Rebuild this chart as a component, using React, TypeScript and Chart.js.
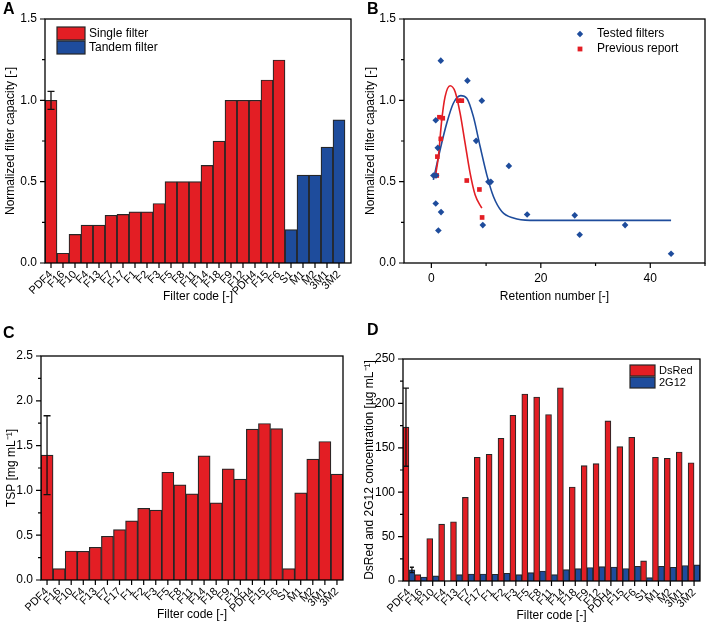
import React, { useEffect, useRef } from 'react';
import { Chart, registerables } from 'chart.js';

Chart.register(...registerables);

const FONT = '"Liberation Sans", Arial, Helvetica, sans-serif';
const RED = '#e31e24';
const BLUE = '#1e4c9c';
const EDGE = '#262626';

// ---------------- data ----------------
const filterCodes = ['PDF4', 'F16', 'F10', 'F4', 'F13', 'F7', 'F17', 'F1', 'F2', 'F3', 'F5', 'F8', 'F11', 'F14', 'F18', 'F9', 'F12', 'PDH4', 'F15', 'F6', 'S1', 'M1', 'M2', '3M1', '3M2'];
const filterKinds = ['single', 'single', 'single', 'single', 'single', 'single', 'single', 'single', 'single', 'single', 'single', 'single', 'single', 'single', 'single', 'single', 'single', 'single', 'single', 'single', 'tandem', 'tandem', 'tandem', 'tandem', 'tandem'];
const normalizedCapacity = [1.0, 0.06, 0.176, 0.233, 0.233, 0.293, 0.299, 0.315, 0.315, 0.366, 0.5, 0.5, 0.5, 0.6, 0.749, 1.0, 1.0, 1.0, 1.125, 1.248, 0.205, 0.54, 0.54, 0.712, 0.88];
const normalizedCapacityErrPDF4 = 0.055;
const legendA = ['Single filter', 'Tandem filter'];

const testedRetention = [1.72, 6.59, 9.22, 0.80, 1.17, 8.18, 14.16, 0.37, 0.86, 10.43, 10.86, 0.80, 1.77, 1.28, 9.40, 17.5, 26.2, 27.1, 35.4, 43.8];
const testedCapacity = [1.244, 1.121, 0.998, 0.878, 0.708, 0.751, 0.597, 0.538, 0.538, 0.499, 0.499, 0.366, 0.313, 0.2, 0.233, 0.298, 0.293, 0.174, 0.233, 0.057];
const previousRetention = [1.47, 2.08, 1.72, 1.10, 0.98, 4.94, 5.56, 6.47, 8.78, 9.27];
const previousCapacity = [0.896, 0.89, 0.763, 0.654, 0.538, 0.998, 0.998, 0.507, 0.452, 0.28];
const testedFitRetention = [0.37, 1.59, 2.81, 4.02, 5.37, 6.47, 7.68, 8.91, 10.13, 11.34, 12.87, 15.0, 18.05, 43.8];
const testedFitCapacity = [0.511, 0.695, 0.859, 0.982, 1.029, 1.013, 0.9, 0.716, 0.542, 0.409, 0.317, 0.276, 0.262, 0.262];
const previousFitRetention = [0.68, 1.28, 1.9, 2.51, 3.42, 4.34, 5.25, 6.16, 7.08, 7.99, 9.22];
const previousFitCapacity = [0.522, 0.654, 0.88, 1.023, 1.09, 1.053, 0.921, 0.737, 0.552, 0.419, 0.337];
const legendB = ['Tested filters', 'Previous report'];

const tsp = [1.393, 0.127, 0.324, 0.32, 0.365, 0.488, 0.563, 0.66, 0.8, 0.78, 1.203, 1.062, 0.961, 1.386, 0.861, 1.241, 1.125, 1.684, 1.747, 1.69, 0.127, 0.972, 1.349, 1.546, 1.181];
const tspErrPDF4 = 0.44;

const dsRed = [173.2, 7.2, 47.8, 64.0, 66.7, 94.1, 139.3, 142.7, 160.8, 186.7, 210.5, 207.1, 187.5, 217.6, 105.8, 129.9, 132.2, 180.3, 151.3, 161.9, 22.6, 139.3, 138.2, 145.3, 133.2];
const g2G12 = [12.5, 4.5, 5.7, null, 7.2, 7.9, 7.9, 7.5, 8.7, 7.2, 9.4, 11.3, 7.2, 12.8, 13.9, 15.1, 16.2, 15.8, 14.0, 16.6, 3.8, 16.6, 15.5, 17.4, 18.1];
const dsRedErrPDF4 = 44;
const g2G12ErrPDF4 = 3;
const legendD = ['DsRed', '2G12'];

const yTicksCapacity = [0, 0.5, 1.0, 1.5];
const yTicksTSP = [0, 0.5, 1.0, 1.5, 2.0, 2.5];
const yTicksConc = [0, 50, 100, 150, 200, 250];
const xTicksRetention = [0, 20, 40];
const xMinorRetention = [10, 30, 50];

// ---------------- plugins ----------------
const framePlugin = {
  id: 'frame',
  afterDatasetsDraw(chart: any, _a: any, opts: any) {
    const { ctx, chartArea: a } = chart;
    const xs = chart.scales.x;
    const ys = chart.scales.y;
    ctx.save();
    ctx.strokeStyle = '#000';
    ctx.lineWidth = 1.2;
    ctx.beginPath();
    const n = Math.round((ys.max - ys.min) / opts.yMinor);
    for (let k = 0; k <= n; k++) {
      const p = ys.getPixelForValue(ys.min + k * opts.yMinor);
      const len = k % 2 === 0 ? 5 : 3;
      ctx.moveTo(a.left, p);
      ctx.lineTo(a.left - len, p);
    }
    xs.ticks.forEach((_t: any, i: number) => {
      const p = xs.getPixelForTick(i);
      ctx.moveTo(p, a.bottom);
      ctx.lineTo(p, a.bottom + 5);
    });
    (opts.xMinor || []).forEach((v: number) => {
      const p = xs.getPixelForValue(v);
      ctx.moveTo(p, a.bottom);
      ctx.lineTo(p, a.bottom + 3);
    });
    ctx.stroke();
    ctx.lineWidth = 1.3;
    ctx.strokeRect(a.left, a.top, a.right - a.left, a.bottom - a.top);
    ctx.restore();
  },
};

const errorBarPlugin = {
  id: 'errorBars',
  afterDatasetsDraw(chart: any, _a: any, opts: any) {
    if (!opts || !opts.items) return;
    const { ctx } = chart;
    const ys = chart.scales.y;
    ctx.save();
    ctx.strokeStyle = '#111';
    ctx.lineWidth = 1.3;
    opts.items.forEach((it: any) => {
      const el = chart.getDatasetMeta(it.dataset).data[it.index];
      if (!el) return;
      const x = el.x;
      const yt = ys.getPixelForValue(it.value + it.err);
      const yb = ys.getPixelForValue(it.value - it.err);
      const h = it.cap / 2;
      ctx.beginPath();
      ctx.moveTo(x, yt);
      ctx.lineTo(x, yb);
      ctx.moveTo(x - h, yt);
      ctx.lineTo(x + h, yt);
      ctx.moveTo(x - h, yb);
      ctx.lineTo(x + h, yb);
      ctx.stroke();
    });
    ctx.restore();
  },
};

const legendPlugin = {
  id: 'customLegend',
  afterDraw(chart: any, _a: any, opts: any) {
    if (!opts || !opts.items) return;
    const { ctx } = chart;
    ctx.save();
    ctx.font = `${opts.fontSize}px ${FONT}`;
    ctx.textBaseline = 'middle';
    ctx.textAlign = 'left';
    opts.items.forEach((it: any, i: number) => {
      const y0 = opts.y + i * opts.rowH;
      const cy = y0 + opts.boxH / 2;
      if (it.kind === 'box') {
        ctx.fillStyle = it.color;
        ctx.fillRect(opts.x, y0, opts.boxW, opts.boxH);
        ctx.strokeStyle = EDGE;
        ctx.lineWidth = 1.2;
        ctx.strokeRect(opts.x, y0, opts.boxW, opts.boxH);
      } else {
        ctx.fillStyle = it.color;
        const cx = opts.x + opts.boxW / 2;
        const r = 3.2;
        ctx.beginPath();
        if (it.kind === 'diamond') {
          ctx.moveTo(cx, cy - r);
          ctx.lineTo(cx + r, cy);
          ctx.lineTo(cx, cy + r);
          ctx.lineTo(cx - r, cy);
        } else {
          ctx.rect(cx - 2.4, cy - 2.4, 4.8, 4.8);
        }
        ctx.closePath();
        ctx.fill();
      }
      ctx.fillStyle = '#000';
      ctx.fillText(it.label, opts.textX, cy);
    });
    ctx.restore();
  },
};

// ---------------- helpers ----------------
type Box = { w: number; h: number; left: number; right: number; top: number; bottom: number };

const tickFont = { size: 12, family: FONT };
const titleFont = { size: 12, family: FONT };

function yAxis(box: Box, min: number, max: number, majors: number[], decimals: number, title: string, titlePad: number) {
  return {
    type: 'linear',
    min,
    max,
    afterBuildTicks: (s: any) => {
      s.ticks = majors.map((v) => ({ value: v }));
    },
    ticks: { callback: (v: any) => Number(v).toFixed(decimals), padding: 8, color: '#000', font: tickFont },
    grid: { display: false, drawTicks: false, tickLength: 0 },
    border: { display: false },
    title: { display: true, text: title, color: '#000', font: titleFont, padding: { top: titlePad, bottom: 0 } },
    afterFit: (s: any) => {
      s.width = box.left;
      s.paddingTop = 0;
      s.paddingBottom = 0;
    },
  };
}

function xTitle(text: string, padBottom: number) {
  return { display: true, text, color: '#000', font: titleFont, padding: { top: 0, bottom: padBottom } };
}

function xFit(box: Box) {
  return (s: any) => {
    s.height = box.h - box.bottom;
    s.paddingLeft = 0;
    s.paddingRight = 0;
  };
}

function baseOptions(box: Box) {
  return {
    responsive: false,
    animation: false,
    devicePixelRatio: 1,
    layout: { autoPadding: false, padding: { left: 0, top: box.top, right: box.w - box.right, bottom: 0 } },
  };
}

const boxA: Box = { w: 354, h: 310, left: 45, right: 351, top: 19, bottom: 263 };
const boxB: Box = { w: 354, h: 310, left: 50, right: 351, top: 19, bottom: 263 };
const boxC: Box = { w: 354, h: 315, left: 41, right: 343, top: 46, bottom: 270 };
const boxD: Box = { w: 354, h: 315, left: 49, right: 346, top: 49, bottom: 271 };

function configA(): any {
  return {
    type: 'bar',
    data: {
      datasets: [
        {
          data: filterCodes.map((_c, i) => ({ x: i, y: normalizedCapacity[i] })),
          backgroundColor: filterKinds.map((k) => (k === 'single' ? RED : BLUE)),
          borderColor: EDGE,
          borderWidth: 1.2,
          barPercentage: 1,
          categoryPercentage: 1,
        },
      ],
    },
    options: {
      ...baseOptions(boxA),
      plugins: {
        legend: { display: false },
        tooltip: { enabled: false },
        frame: { yMinor: 0.25 },
        errorBars: { items: [{ dataset: 0, index: 0, value: normalizedCapacity[0], err: normalizedCapacityErrPDF4, cap: 7 }] },
        customLegend: {
          x: 57, y: 27, boxW: 28, boxH: 13, rowH: 14, textX: 89, fontSize: 12,
          items: [
            { kind: 'box', color: RED, label: legendA[0] },
            { kind: 'box', color: BLUE, label: legendA[1] },
          ],
        },
      },
      scales: {
        x: {
          type: 'linear',
          min: -0.5,
          max: 25,
          offset: false,
          afterBuildTicks: (s: any) => {
            s.ticks = filterCodes.map((_c, i) => ({ value: i }));
          },
          ticks: { autoSkip: false, maxRotation: 45, minRotation: 45, padding: 5, color: '#000', font: { size: 11, family: FONT }, callback: (v: any) => filterCodes[v] ?? '' },
          grid: { display: false, drawTicks: false, tickLength: 0 },
          border: { display: false },
          title: xTitle('Filter code [-]', 6),
          afterFit: xFit(boxA),
        },
        y: yAxis(boxA, 0, 1.5, yTicksCapacity, 1, 'Normalized filter capacity [-]', 3),
      },
    },
    plugins: [framePlugin, errorBarPlugin, legendPlugin],
  };
}

function configB(): any {
  return {
    type: 'scatter',
    data: {
      datasets: [
        {
          data: testedRetention.map((x, i) => ({ x, y: testedCapacity[i] })),
          pointStyle: 'rectRot', pointRadius: 3.3, backgroundColor: BLUE, borderColor: BLUE, borderWidth: 0, showLine: false,
        },
        {
          data: previousRetention.map((x, i) => ({ x, y: previousCapacity[i] })),
          pointStyle: 'rect', pointRadius: 3.3, backgroundColor: RED, borderColor: RED, borderWidth: 0, showLine: false,
        },
        {
          data: previousFitRetention.map((x, i) => ({ x, y: previousFitCapacity[i] })),
          showLine: true, pointRadius: 0, borderColor: RED, borderWidth: 1.6, cubicInterpolationMode: 'monotone', fill: false,
        },
        {
          data: testedFitRetention.map((x, i) => ({ x, y: testedFitCapacity[i] })),
          showLine: true, pointRadius: 0, borderColor: BLUE, borderWidth: 1.6, cubicInterpolationMode: 'monotone', fill: false,
        },
      ],
    },
    options: {
      ...baseOptions(boxB),
      plugins: {
        legend: { display: false },
        tooltip: { enabled: false },
        frame: { yMinor: 0.25, xMinor: xMinorRetention },
        customLegend: {
          x: 220, y: 28, boxW: 12, boxH: 12, rowH: 15, textX: 243, fontSize: 12,
          items: [
            { kind: 'diamond', color: BLUE, label: legendB[0] },
            { kind: 'square', color: RED, label: legendB[1] },
          ],
        },
      },
      scales: {
        x: {
          type: 'linear',
          min: -5,
          max: 50,
          afterBuildTicks: (s: any) => {
            s.ticks = xTicksRetention.map((v) => ({ value: v }));
          },
          ticks: { padding: 8, color: '#000', font: tickFont, maxRotation: 0 },
          grid: { display: false, drawTicks: false, tickLength: 0 },
          border: { display: false },
          title: xTitle('Retention number [-]', 6),
          afterFit: xFit(boxB),
        },
        y: yAxis(boxB, 0, 1.5, yTicksCapacity, 1, 'Normalized filter capacity [-]', 9.5),
      },
    },
    plugins: [framePlugin, legendPlugin],
  };
}

function configC(): any {
  return {
    type: 'bar',
    data: {
      labels: filterCodes,
      datasets: [
        { data: tsp, backgroundColor: RED, borderColor: EDGE, borderWidth: 1.2, barPercentage: 1, categoryPercentage: 1 },
      ],
    },
    options: {
      ...baseOptions(boxC),
      plugins: {
        legend: { display: false },
        tooltip: { enabled: false },
        frame: { yMinor: 0.25 },
        errorBars: { items: [{ dataset: 0, index: 0, value: tsp[0], err: tspErrPDF4, cap: 7 }] },
      },
      scales: {
        x: {
          type: 'category',
          offset: true,
          ticks: { autoSkip: false, maxRotation: 45, minRotation: 45, padding: 5, color: '#000', font: { size: 11, family: FONT } },
          grid: { display: false, drawTicks: false, tickLength: 0 },
          border: { display: false },
          title: xTitle('Filter code [-]', 3),
          afterFit: xFit(boxC),
        },
        y: yAxis(boxC, 0, 2.5, yTicksTSP, 1, 'TSP [mg mL\u207B\u00B9]', 4.5),
      },
    },
    plugins: [framePlugin, errorBarPlugin],
  };
}

function configD(): any {
  return {
    type: 'bar',
    data: {
      labels: filterCodes,
      datasets: [
        { label: legendD[0], data: dsRed, backgroundColor: RED, borderColor: EDGE, borderWidth: 1.1, barPercentage: 1, categoryPercentage: 1 },
        { label: legendD[1], data: g2G12, backgroundColor: BLUE, borderColor: EDGE, borderWidth: 1.1, barPercentage: 1, categoryPercentage: 1 },
      ],
    },
    options: {
      ...baseOptions(boxD),
      plugins: {
        legend: { display: false },
        tooltip: { enabled: false },
        frame: { yMinor: 25 },
        errorBars: {
          items: [
            { dataset: 0, index: 0, value: dsRed[0], err: dsRedErrPDF4, cap: 6 },
            { dataset: 1, index: 0, value: g2G12[0], err: g2G12ErrPDF4, cap: 4 },
          ],
        },
        customLegend: {
          x: 276, y: 55, boxW: 25, boxH: 11, rowH: 12, textX: 305, fontSize: 11,
          items: [
            { kind: 'box', color: RED, label: legendD[0] },
            { kind: 'box', color: BLUE, label: legendD[1] },
          ],
        },
      },
      scales: {
        x: {
          type: 'category',
          offset: true,
          ticks: { autoSkip: false, maxRotation: 45, minRotation: 45, padding: 5, color: '#000', font: { size: 11, family: FONT } },
          grid: { display: false, drawTicks: false, tickLength: 0 },
          border: { display: false },
          title: xTitle('Filter code [-]', 2),
          afterFit: xFit(boxD),
        },
        y: yAxis(boxD, 0, 250, yTicksConc, 0, 'DsRed and 2G12 concentration [\u00B5g mL\u207B\u00B9]', 8),
      },
    },
    plugins: [framePlugin, errorBarPlugin, legendPlugin],
  };
}

const panels = [
  { key: 'A', left: 0, top: 0, box: boxA, make: configA, letterX: 3, letterY: 1 },
  { key: 'B', left: 354, top: 0, box: boxB, make: configB, letterX: 367, letterY: 1 },
  { key: 'C', left: 0, top: 310, box: boxC, make: configC, letterX: 3, letterY: 325 },
  { key: 'D', left: 354, top: 310, box: boxD, make: configD, letterX: 367, letterY: 322 },
];

export default function App() {
  const refs = useRef<(HTMLCanvasElement | null)[]>([]);

  useEffect(() => {
    Chart.defaults.font.family = FONT;
    Chart.defaults.color = '#000';
    const charts = panels.map((p, i) => new Chart(refs.current[i] as HTMLCanvasElement, p.make()));
    return () => charts.forEach((c) => c.destroy());
  }, []);

  return (
    <div style={{ position: 'absolute', left: 0, top: 0, width: 708, height: 625, background: '#fff', overflow: 'hidden' }}>
      {panels.map((p, i) => (
        <canvas
          key={p.key}
          ref={(el) => {
            refs.current[i] = el;
          }}
          width={p.box.w}
          height={p.box.h}
          style={{ position: 'absolute', left: p.left, top: p.top, width: p.box.w, height: p.box.h, display: 'block' }}
        />
      ))}
      {panels.map((p) => (
        <div
          key={'l' + p.key}
          style={{ position: 'absolute', left: p.letterX, top: p.letterY, fontFamily: FONT, fontWeight: 'bold', fontSize: 16, lineHeight: '16px', color: '#000' }}
        >
          {p.key}
        </div>
      ))}
    </div>
  );
}
